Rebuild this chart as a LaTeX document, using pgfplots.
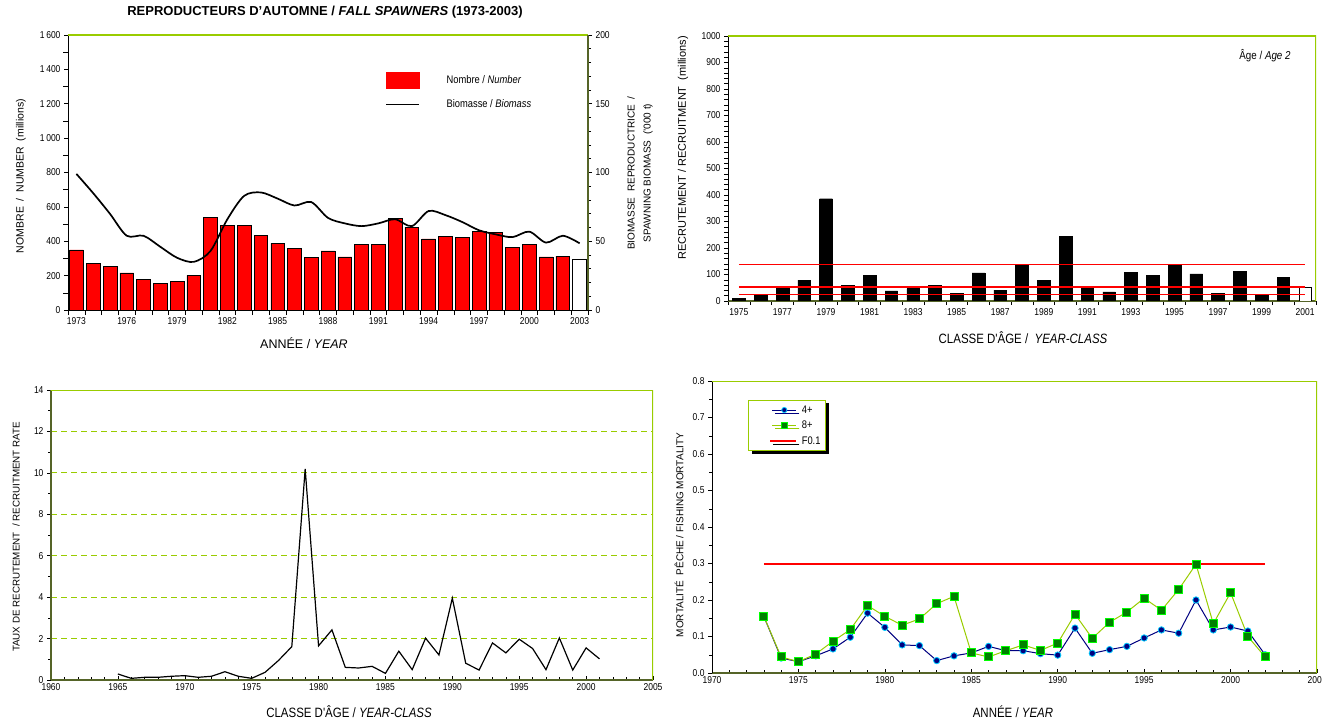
\documentclass[border=0pt]{standalone}
\usepackage{fontspec}
\setmainfont{Liberation Sans}
\newfontfamily\narrow[FakeStretch=0.85]{Liberation Sans}
\usepackage{pgfplots}
\pgfplotsset{compat=1.18}
\usepackage{pgfplotstable}
\usetikzlibrary{shadows}
\definecolor{ygreen}{RGB}{153,204,0}
\definecolor{olv}{RGB}{85,100,40}
\definecolor{navyb}{RGB}{0,0,128}
\definecolor{cyanb}{RGB}{0,204,255}
\definecolor{dgreen}{RGB}{0,128,0}
\definecolor{lgreen}{RGB}{0,255,0}
\definecolor{barred}{RGB}{255,0,0}

\pgfplotstableread{
year num
1973 350
1974 270
1975 255
1976 216
1977 177
1978 154
1979 167
1980 202
1981 541
1982 494
1983 490
1984 434
1985 387
1986 360
1987 305
1988 344
1989 309
1990 383
1991 383
1992 535
1993 480
1994 414
1995 426
1996 422
1997 457
1998 453
1999 364
2000 383
2001 309
2002 313
}\spawnnum

\pgfplotstableread{
year bio
1973 99
1974 85
1975 70
1976 54
1977 54
1978 46
1979 38
1980 35
1981 43
1982 66
1983 83
1984 85.5
1985 81
1986 76
1987 78.5
1988 67
1989 63
1990 61
1991 63
1992 66
1993 61
1994 72
1995 69
1996 64
1997 58
1998 55
1999 53
2000 57
2001 49
2002 54
2003 48.5
}\biomass

\pgfplotstableread{
year rec
1975 9
1976 23
1977 50
1978 79
1979 386
1980 60
1981 98
1982 38
1983 47
1984 60
1985 30
1986 106
1987 41
1988 138
1989 79
1990 243
1991 50
1992 34
1993 109
1994 97
1995 138
1996 102
1997 30
1998 113
1999 26
2000 88
}\recr

\pgfplotstableread{
year rate
1965 0.29
1966 0.08
1967 0.13
1968 0.13
1969 0.18
1970 0.21
1971 0.13
1972 0.18
1973 0.40
1974 0.18
1975 0.08
1976 0.37
1977 0.94
1978 1.61
1979 10.19
1980 1.65
1981 2.42
1982 0.61
1983 0.58
1984 0.66
1985 0.32
1986 1.39
1987 0.50
1988 2.02
1989 1.21
1990 3.95
1991 0.81
1992 0.48
1993 1.79
1994 1.31
1995 1.97
1996 1.52
1997 0.50
1998 2.03
1999 0.48
2000 1.55
2001 1.02
}\rate

\pgfplotstableread{
year f4 f8
1973 0.155 0.155
1974 0.041 0.044
1975 0.031 0.031
1976 0.047 0.052
1977 0.066 0.087
1978 0.098 0.119
1979 0.164 0.185
1980 0.125 0.155
1981 0.077 0.131
1982 0.075 0.148
1983 0.034 0.190
1984 0.047 0.210
1985 0.055 0.055
1986 0.073 0.044
1987 0.061 0.061
1988 0.061 0.077
1989 0.053 0.062
1990 0.049 0.082
1991 0.123 0.161
1992 0.054 0.095
1993 0.064 0.139
1994 0.073 0.167
1995 0.096 0.205
1996 0.118 0.172
1997 0.109 0.229
1998 0.200 0.298
1999 0.118 0.135
2000 0.126 0.220
2001 0.115 0.100
2002 0.050 0.044
}\fmort

\pgfplotsset{
  mycommon/.style={
    scale only axis, anchor=south west,
    tick label style={font=\narrow\fontsize{10}{11}\selectfont, black},
    /pgf/number format/assume math mode=true,
    /pgf/number format/1000 sep={\,},
    xticklabel style={/pgf/number format/1000 sep={}},
    tick style={black, line width=0.5pt},
    major tick length=4pt, minor tick length=3pt,
  }
}

\begin{document}
\begin{tikzpicture}[x=1pt,y=1pt]
\useasboundingbox (0,0) rectangle (1322,721);

% ---------- Panel 1 : left axis (numbers)
\begin{axis}[mycommon, at={(68pt,411pt)}, width=520pt, height=275pt,
  xmin=1972.5, xmax=2003.5, ymin=0, ymax=1600,
  axis x line*=bottom, axis y line*=left,
  xtick={1973,1976,...,2003}, minor xtick={1972.5,1973.5,...,2003.5},
  major x tick style={draw=none},
  ytick={0,200,...,1600}, minor ytick={100,300,...,1500},
  tick align=outside, minor tick length=5pt,
  axis line style={black, line width=0.6pt}]
\addplot[ybar, bar shift=0pt, bar width=0.82, fill=barred, draw=black, line width=0.6pt] table[x=year,y=num] {\spawnnum};
\addplot[ybar, bar shift=0pt, bar width=0.82, fill=white, draw=black, line width=0.6pt] coordinates {(2003,296)};
\draw[ygreen, line width=1.2pt] (rel axis cs:0,1) -- (rel axis cs:1,1);
\end{axis}

% ---------- Panel 1 : right axis (biomass)
\begin{axis}[mycommon, at={(68pt,411pt)}, width=520pt, height=275pt,
  xmin=1972.5, xmax=2003.5, ymin=0, ymax=200,
  axis y line*=right, axis x line=none,
  ytick={0,50,...,200}, minor y tick num=4,
  tick align=outside,
  y axis line style={olv, line width=1.2pt},
  legend style={at={(0.605,0.873)}, anchor=north west, draw=none, fill=none,
    font=\narrow\fontsize{11}{12}\selectfont, row sep=9pt,
    /tikz/every odd column/.append style={column sep=25pt}},
  legend cell align=left]
\addlegendimage{legend image code/.code={\fill[barred] (0pt,-8pt) rectangle (33pt,8pt);}}
\addlegendentry{Nombre / \textit{Number}}
\addplot[black, line width=1.7pt, smooth,
  legend image code/.code={\draw[black, line width=0.8pt] (0pt,0pt) -- (33pt,0pt);}]
  table[x=year,y=bio] {\biomass};
\addlegendentry{Biomasse / \textit{Biomass}}
\end{axis}

% ---------- Panel 2 : recruitment
\begin{axis}[mycommon, at={(728pt,420pt)}, width=588pt, height=265pt,
  xmin=1974.5, xmax=2001.5, ymin=0, ymax=1000,
  axis x line*=bottom, axis y line*=left,
  xtick={1975,1977,...,2001}, minor xtick={1974.5,1975.5,...,2001.5},
  major x tick style={draw=none},
  ytick={0,100,...,1000}, minor y tick num=4,
  /pgf/number format/1000 sep={},
  tick align=outside, minor tick length=4pt,
  y axis line style={black, line width=0.6pt},
  x axis line style={olv, line width=1.2pt}]
\addplot[ybar, bar shift=0pt, bar width=0.58, fill=black, draw=black] table[x=year,y=rec] {\recr};
\addplot[ybar, bar shift=0pt, bar width=0.58, fill=white, draw=black, line width=0.6pt] coordinates {(2001,52)};
\addplot[barred, line width=1.5pt] coordinates {(1975,138) (2001,138)};
\addplot[barred, line width=1.5pt] coordinates {(1975,53) (2001,53)};
\addplot[barred, line width=1.5pt] coordinates {(1975,24) (2001,24)};
\draw[ygreen, line width=1.2pt] (rel axis cs:0,1) -- (rel axis cs:1,1) -- (rel axis cs:1,0);
\end{axis}

% ---------- Panel 3 : recruitment rate
\begin{axis}[mycommon, at={(51pt,41pt)}, width=602pt, height=290pt,
  xmin=1960, xmax=2005, ymin=0, ymax=14,
  axis x line*=bottom, axis y line*=left,
  xtick={1960,1965,...,2005}, minor x tick num=4,
  ytick={0,2,...,14}, minor y tick num=1,
  xtick align=inside, ytick align=outside,
  /pgf/number format/1000 sep={},
  ymajorgrids, major grid style={ygreen, line width=0.9pt, dash pattern=on 6pt off 4pt},
  y axis line style={olv, line width=1.2pt},
  x axis line style={olv, line width=1.6pt}]
\draw[ygreen, line width=1.2pt] (rel axis cs:0,1) -- (rel axis cs:1,1) -- (rel axis cs:1,0);
\addplot[black, line width=1.2pt] table[x=year,y=rate] {\rate};
\end{axis}

% ---------- Panel 4 : fishing mortality
\begin{axis}[mycommon, at={(712pt,48pt)}, width=605pt, height=292pt,
  xmin=1970, xmax=2005, ymin=0, ymax=0.8,
  axis x line*=bottom, axis y line*=left,
  xtick={1970,1975,...,2005}, minor x tick num=4,
  ytick={0,0.1,0.2,0.3,0.4,0.5,0.6,0.7,0.8}, minor y tick num=1,
  xtick align=inside, ytick align=outside,
  /pgf/number format/1000 sep={},
  yticklabel style={/pgf/number format/.cd, fixed, fixed zerofill, precision=1},
  y axis line style={black, line width=0.8pt},
  x axis line style={olv, line width=1.4pt},
  legend style={at={(0.06,0.935)}, anchor=north west, draw=ygreen, fill=white,
    line width=1pt, inner sep=3pt,
    drop shadow={shadow xshift=3pt, shadow yshift=-3pt, fill=black, opacity=1},
    font=\narrow\fontsize{11}{12}\selectfont, row sep=2.5pt,
    /tikz/every odd column/.append style={column sep=1pt}},
  legend cell align=left]
\draw[ygreen, line width=1.2pt] (rel axis cs:0,1) -- (rel axis cs:1,1) -- (rel axis cs:1,0);
\addplot[barred, line width=2pt, forget plot] coordinates {(1973,0.3) (2002,0.3)};
\addplot[navyb, line width=1pt, mark=*, mark size=3.2pt, mark options={fill=navyb, draw=cyanb, line width=0.8pt},
  legend image code/.code={\path (0pt,0pt) (46pt,0pt);
    \draw[navyb, line width=1pt] (20pt,0pt) -- (44pt,0pt);
    \draw[mark size=2.6pt, mark options={fill=navyb, draw=cyanb, line width=0.8pt}] plot[mark=*] coordinates {(32pt,0pt)};}]
  table[x=year,y=f4] {\fmort};
\addlegendentry{4+\hspace{26pt}}
\addplot[ygreen, line width=1pt, mark=square*, mark size=4pt, mark options={fill=dgreen, draw=lgreen, line width=1pt},
  legend image code/.code={\path (0pt,0pt) (46pt,0pt);
    \draw[ygreen, line width=1pt] (20pt,0pt) -- (44pt,0pt);
    \draw[mark size=3pt, mark options={fill=dgreen, draw=lgreen, line width=0.8pt}] plot[mark=square*] coordinates {(32pt,0pt)};}]
  table[x=year,y=f8] {\fmort};
\addlegendentry{8+}
\addlegendimage{legend image code/.code={\path (0pt,0pt) (46pt,0pt); \draw[barred, line width=2.2pt] (18pt,0pt) -- (44pt,0pt);}}
\addlegendentry{F0.1}
\end{axis}

% ---------- Titles and axis labels
\node[font=\bfseries\fontsize{13}{15}\selectfont] at (325,709) {REPRODUCTEURS D'AUTOMNE / \textit{FALL SPAWNERS} (1973-2003)};
\node[rotate=90, font=\fontsize{10.5}{12}\selectfont] at (21,545) {NOMBRE \ / \ NUMBER \ (millions)};
\node[rotate=90, font=\fontsize{10}{16}\selectfont, align=center] at (640,548) {BIOMASSE \ REPRODUCTRICE \ /\\SPAWNING BIOMASS \ ('000 t)};
\node[font=\fontsize{12.5}{14}\selectfont] at (304,378) {ANNÉE / \textit{YEAR}};

\node[rotate=90, font=\fontsize{11}{12}\selectfont] at (683,573) {RECRUTEMENT / RECRUITMENT \ (millions)};
\node[font=\narrow\fontsize{13.5}{15}\selectfont] at (1023,383) {CLASSE D'ÂGE / \ \textit{YEAR-CLASS}};
\node[font=\narrow\fontsize{11.5}{13}\selectfont] at (1265,665) {Âge / \textit{Age 2}};

\node[rotate=90, font=\fontsize{9.8}{12}\selectfont] at (16,184) {TAUX DE RECRUTEMENT \ / RECRUITMENT RATE};
\node[font=\narrow\fontsize{13.5}{15}\selectfont] at (349,9) {CLASSE D'ÂGE / \textit{YEAR-CLASS}};

\node[rotate=90, font=\fontsize{10}{12}\selectfont] at (679,186) {MORTALITÉ \ PÊCHE / FISHING MORTALITY};
\node[font=\narrow\fontsize{13.5}{15}\selectfont] at (1013,9) {ANNÉE / \textit{YEAR}};
\end{tikzpicture}
\end{document}
